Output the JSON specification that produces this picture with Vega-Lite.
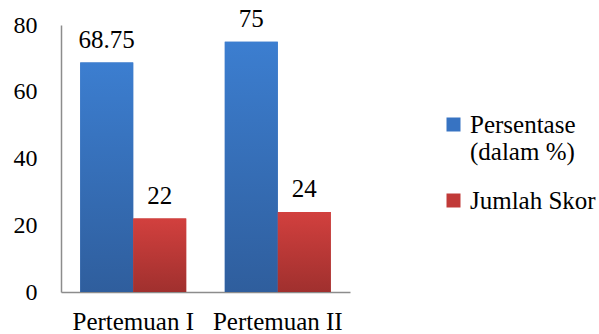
{
  "$schema": "https://vega.github.io/schema/vega-lite/v6.json",
  "width": 289,
  "height": 267,
  "autosize": "none",
  "padding": {"left": 61, "top": 25, "right": 249, "bottom": 42},
  "background": "white",
  "config": {
    "view": {"stroke": null},
    "font": "Liberation Serif"
  },
  "data": {
    "values": [
      {"pertemuan": "Pertemuan I", "series": "Persentase (dalam %)", "value": 68.75, "label": "68.75"},
      {"pertemuan": "Pertemuan I", "series": "Jumlah Skor", "value": 22, "label": "22"},
      {"pertemuan": "Pertemuan II", "series": "Persentase (dalam %)", "value": 75, "label": "75"},
      {"pertemuan": "Pertemuan II", "series": "Jumlah Skor", "value": 24, "label": "24"}
    ]
  },
  "encoding": {
    "x": {
      "field": "pertemuan",
      "type": "nominal",
      "sort": null,
      "scale": {"paddingInner": 0.267, "paddingOuter": 0.133},
      "axis": {
        "title": null,
        "labelAngle": 0,
        "ticks": false,
        "domainColor": "#8c8c8c",
        "domainWidth": 1.5,
        "labelFont": "Liberation Serif",
        "labelFontSize": 25,
        "labelColor": "#000000",
        "labelPadding": 17
      }
    },
    "xOffset": {
      "field": "series",
      "type": "nominal",
      "sort": ["Persentase (dalam %)", "Jumlah Skor"],
      "scale": {"paddingInner": 0, "paddingOuter": 0}
    },
    "y": {
      "field": "value",
      "type": "quantitative",
      "scale": {"domain": [0, 80], "nice": false},
      "axis": {
        "title": null,
        "values": [0, 20, 40, 60, 80],
        "grid": false,
        "ticks": false,
        "domainColor": "#8c8c8c",
        "domainWidth": 1.5,
        "labelFont": "Liberation Serif",
        "labelFontSize": 24,
        "labelColor": "#000000",
        "labelPadding": 24
      }
    }
  },
  "layer": [
    {
      "mark": {"type": "bar"},
      "encoding": {
        "color": {
          "field": "series",
          "type": "nominal",
          "sort": ["Persentase (dalam %)", "Jumlah Skor"],
          "scale": {"domain": ["Persentase (dalam %)", "Jumlah Skor"], "range": ["#3773c2", "#c13a38"]},
          "legend": {
            "title": null,
            "orient": "none",
            "legendX": 380,
            "legendY": 87,
            "symbolType": "square",
            "symbolSize": 196,
            "symbolStrokeWidth": 0,
            "labelFont": "Liberation Serif",
            "labelFontSize": 25,
            "labelColor": "#000000",
            "labelOffset": 4,
            "labelLimit": 300,
            "rowPadding": 23,
            "labelExpr": "datum.label == 'Persentase (dalam %)' ? ['Persentase', '(dalam %)'] : datum.label",
            "labelLineHeight": 29
          }
        }
      }
    },
    {
      "mark": {"type": "bar"},
      "encoding": {
        "fill": {
          "condition": {
            "test": "datum.series == 'Jumlah Skor'",
            "value": {
              "x1": 0, "y1": 0, "x2": 0, "y2": 1, "gradient": "linear",
              "stops": [{"offset": 0, "color": "#d2403e"}, {"offset": 1, "color": "#a0302e"}]
            }
          },
          "value": {
            "x1": 0, "y1": 0, "x2": 0, "y2": 1, "gradient": "linear",
            "stops": [{"offset": 0, "color": "#3c7ed0"}, {"offset": 1, "color": "#2f5e9d"}]
          }
        }
      }
    },
    {
      "mark": {"type": "text", "baseline": "alphabetic", "dy": -15, "font": "Liberation Serif", "fontSize": 25, "color": "#000000"},
      "encoding": {
        "text": {"field": "label"}
      }
    }
  ]
}
